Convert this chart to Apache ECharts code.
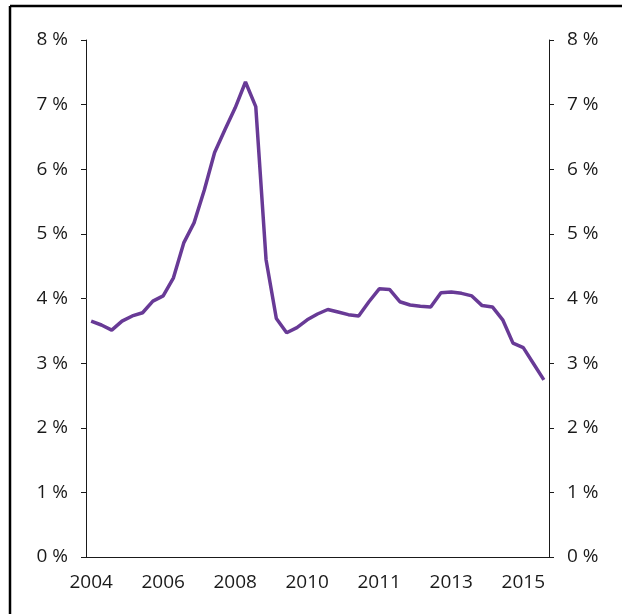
<!DOCTYPE html>
<html>
<head>
<meta charset="utf-8">
<script src="https://cdn.jsdelivr.net/npm/echarts@6/dist/echarts.min.js"></script>
<style>
  html, body { margin: 0; padding: 0; background: #fff; }
  #chart { width: 622px; height: 614px; }
</style>
</head>
<body>
<div id="chart"></div>
<script>
// quarters 2004K4 - 2015K4
var quarters = [];
for (var y = 2004; y <= 2015; y++) {
    for (var q = 1; q <= 4; q++) {
        if (y == 2004 && q < 4) continue;
        quarters.push(y + 'K' + q);
    }
}

var rateValues = [
    3.65, 3.59, 3.51, 3.65, 3.73, 3.78, 3.96, 4.04, 4.32, 4.86,
    5.17, 5.68, 6.26, 6.61, 6.95, 7.35, 6.97, 4.60, 3.69, 3.47,
    3.55, 3.67, 3.76, 3.83, 3.79, 3.75, 3.73, 3.95, 4.15, 4.14,
    3.95, 3.90, 3.88, 3.87, 4.09, 4.10, 4.08, 4.04, 3.89, 3.87,
    3.67, 3.31, 3.24, 2.99, 2.74
];

var yTicks = [0, 1, 2, 3, 4, 5, 6, 7, 8];

var labelFont = {
    fontFamily: 'Open Sans',
    fontSize: 19,
    color: '#1a1a1a'
};

function yAxis(pos) {
    return {
        type: 'value',
        position: pos,
        min: yTicks[0],
        max: yTicks[yTicks.length - 1],
        interval: 1,
        splitLine: { show: false },
        axisLine: { show: true, lineStyle: { color: '#1a1a1a', width: 1 } },
        axisTick: { show: true, length: 5, lineStyle: { color: '#1a1a1a', width: 1 } },
        axisLabel: Object.assign({
            margin: 18,
            formatter: function (v) { return v + ' %'; }
        }, labelFont)
    };
}

var chart = echarts.init(document.getElementById('chart'));

var options = {
    animation: false,
    grid: { left: 86, top: 40, width: 463, height: 517 },
    graphic: [
        { type: 'line', shape: { x1: 10, y1: 6, x2: 622, y2: 6 }, style: { stroke: '#000', lineWidth: 2.5 } },
        { type: 'line', shape: { x1: 10, y1: 6, x2: 10, y2: 614 }, style: { stroke: '#000', lineWidth: 2.5 } }
    ],
    xAxis: {
        type: 'category',
        data: quarters,
        boundaryGap: true,
        axisLine: { show: true, onZero: false, lineStyle: { color: '#1a1a1a', width: 1 } },
        axisTick: { show: false },
        axisLabel: Object.assign({
            interval: 6,
            margin: 16,
            formatter: function (v) { return v.slice(0, 4); }
        }, labelFont)
    },
    yAxis: [yAxis('left'), yAxis('right')],
    series: [
        {
            type: 'line',
            data: rateValues,
            showSymbol: false,
            symbol: 'none',
            lineStyle: { color: '#683a96', width: 3.5 }
        }
    ]
};

chart.setOption(options);
</script>
</body>
</html>
